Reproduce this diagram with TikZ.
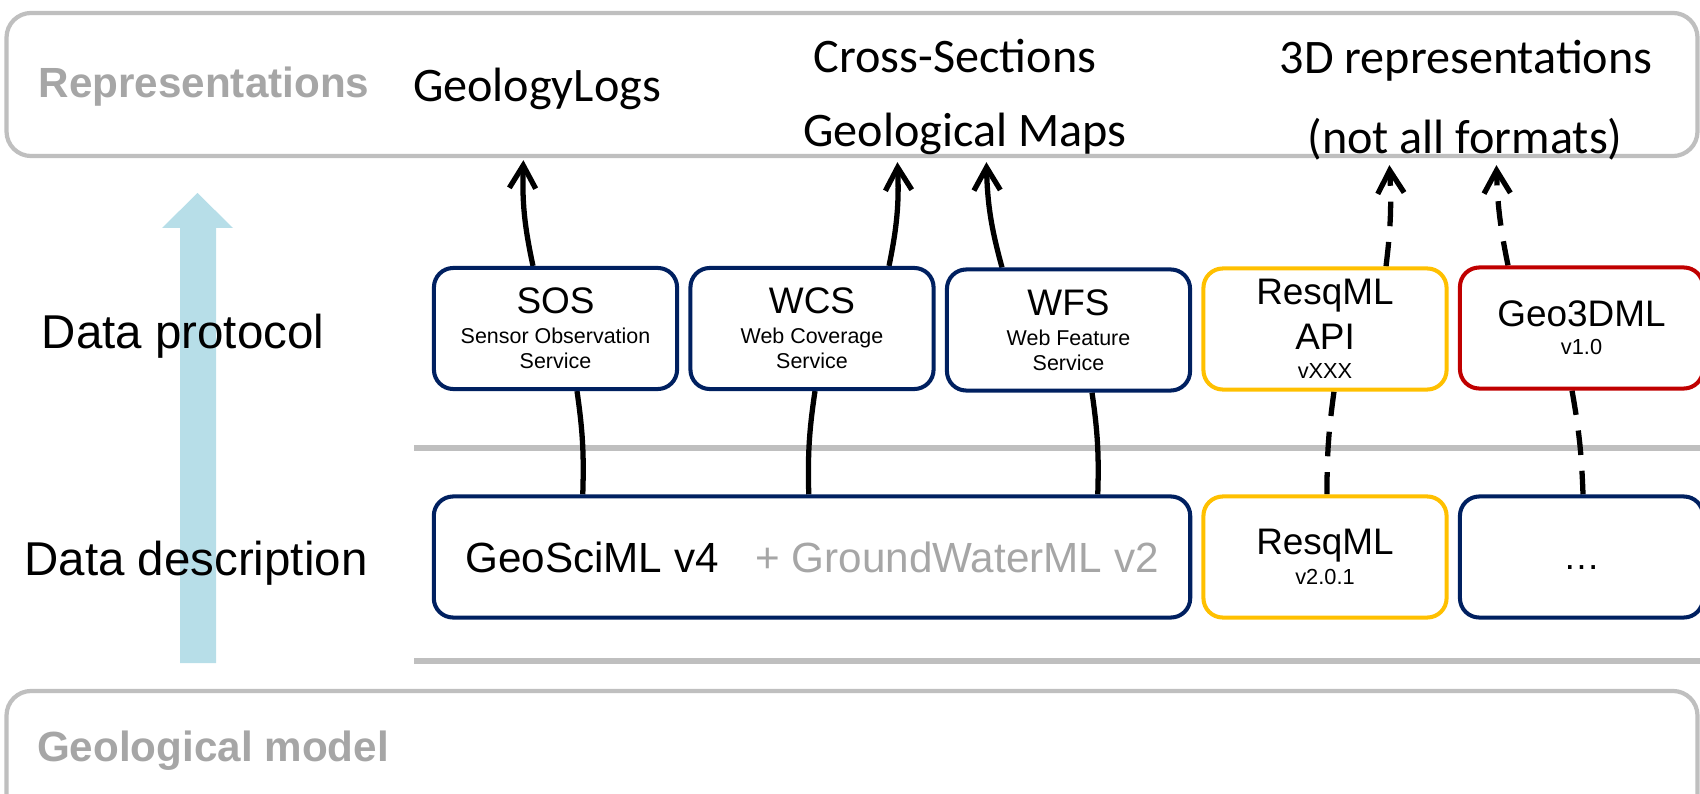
\documentclass[tikz,border=0pt]{standalone}
\usepackage{fontspec}
\setmainfont{Liberation Sans}
\newfontfamily\calibri{Carlito}
\usetikzlibrary{arrows.meta,calc}
\definecolor{geoNavy}{HTML}{002060}
\definecolor{geoYellow}{HTML}{FFC000}
\definecolor{geoRed}{HTML}{C00000}
\definecolor{geoGrayLine}{HTML}{BFBFBF}
\definecolor{geoGrayText}{HTML}{A6A6A6}
\definecolor{geoBlue}{HTML}{B7DEE8}
\tikzset{
    LAYER_BOX/.style={draw=geoGrayLine, line width=1.2pt, rounded corners=7pt,
        fill=white, minimum width=16.9cm, inner sep=0mm},
    LAYER_TITLE/.style={anchor=base, text=geoGrayText,
        font={\fontsize{12}{14}\selectfont\bfseries}},
    ROW_TITLE/.style={anchor=base, font={\fontsize{13.5}{16}\selectfont}},
    REP_TEXT/.style={anchor=base, font={\calibri\fontsize{13.7}{16}\selectfont}},
    BOX/.style={draw=geoNavy, fill=white, line width=1.15pt, rounded corners=5.5pt,
        minimum width=2.43cm, minimum height=1.21cm, inner sep=0mm, align=center},
    SERVICE_BOX/.style={BOX, font={\fontsize{6.1}{7.1}\selectfont}},
    FORMAT_BOX/.style={BOX, font={\fontsize{10.5}{12.8}\selectfont}},
    YELLOW_BOX/.style={FORMAT_BOX, draw=geoYellow},
    RED_BOX/.style={FORMAT_BOX, draw=geoRed},
    EDGE/.style={draw=black, line width=1.5pt},
    ARROW_EDGE/.style={EDGE, -{Straight Barb[length=6.5pt, width=7.5pt]}},
    DASHED_EDGE/.style={EDGE, dash pattern=on 7pt off 4.5pt},
    DASHED_ARROW_EDGE/.style={ARROW_EDGE, dash pattern=on 7pt off 4.5pt},
    GRAY_RULE/.style={draw=geoGrayLine, line width=1.5pt}
}
\newcommand{\boxtitle}[1]{{\fontsize{10.5}{12}\selectfont #1}}
\newcommand{\boxsmall}[1]{{\fontsize{6.2}{7}\selectfont #1}}
\pgfdeclarelayer{edgelayer}
\pgfdeclarelayer{nodelayer}
\pgfsetlayers{edgelayer,nodelayer,main}

\begin{document}
\begin{tikzpicture}[x=0.01cm, y=-0.01cm]
    \useasboundingbox (0,0) rectangle (1700,794);
    \begin{pgfonlayer}{nodelayer}
        \clip (0,0) rectangle (1700,794);
        \node [LAYER_BOX, minimum height=1.43cm] (1) at (852,84.5) {};
        \node [LAYER_BOX, minimum height=1.40cm] (2) at (852,761) {};
        \node [LAYER_TITLE] (3) at (204,98) {Representations};
        \node [LAYER_TITLE] (4) at (213,761) {Geological model};
        \node [REP_TEXT] (5) at (537,102) {GeologyLogs};
        \node [REP_TEXT] (6) at (955,73) {Cross-Sections};
        \node [REP_TEXT] (7) at (965,147) {Geological Maps};
        \node [REP_TEXT] (8) at (1466,74) {3D representations};
        \node [REP_TEXT] (9) at (1465,154) {(not all formats)};
        \node [ROW_TITLE] (10) at (183,348) {Data protocol};
        \node [ROW_TITLE] (11) at (196,575) {Data description};
        \node [SERVICE_BOX] (12) at (555.5,328.5) {\boxtitle{SOS}\\[1.4pt]Sensor Observation\\Service};
        \node [SERVICE_BOX] (13) at (812,328.5) {\boxtitle{WCS}\\[1.4pt]Web Coverage\\Service};
        \node [SERVICE_BOX] (14) at (1068.5,330) {\boxtitle{WFS}\\[1.4pt]Web Feature\\Service};
        \node [YELLOW_BOX] (15) at (1325,329) {ResqML\\API\\[-4.5pt]\boxsmall{vXXX}};
        \node [RED_BOX] (16) at (1581.5,328) {Geo3DML\\[-4.8pt]\boxsmall{v1.0}};
        \node [BOX, minimum width=7.56cm, font={\fontsize{12}{14}\selectfont}] (17) at (812,557)
            {GeoSciML v4\hspace{10.5pt}\textcolor{geoGrayText}{+ GroundWaterML v2}};
        \node [YELLOW_BOX] (18) at (1325,557) {ResqML\\[-4.3pt]\boxsmall{v2.0.1}};
        \node [FORMAT_BOX] (19) at (1581.5,557) {\vphantom{A}…};
    \end{pgfonlayer}
    \begin{pgfonlayer}{edgelayer}
        \clip (0,0) rectangle (1700,794);
        \fill[geoBlue] (180,663) -- (180,228) -- (162,228) -- (197.5,193)
            -- (233,228) -- (216,228) -- (216,663) -- cycle;
        \draw[GRAY_RULE] (414,448) -- (1700,448);
        \draw[GRAY_RULE] (414,661) -- (1700,661);
        \draw[ARROW_EDGE] ($(12.north)+(-22.5,0)$) to[bend left=7] ($(1.south west)+(519,2)$);
        \draw[ARROW_EDGE] ($(13.north)+(77,0)$) to[bend right=7] ($(1.south west)+(893,4)$);
        \draw[ARROW_EDGE] ($(14.north)+(-66.5,0)$) to[bend left=7] ($(1.south west)+(982,4)$);
        \draw[DASHED_ARROW_EDGE] ($(15.north)+(61,0)$) to[bend right=5] ($(1.south west)+(1385,7)$);
        \draw[DASHED_ARROW_EDGE] ($(16.north)+(-73.5,0)$) to[bend left=5] ($(1.south west)+(1492,7)$);
        \draw[EDGE] ($(12.south)+(21.5,0)$) to[bend left=5] ($(17.north west)+(151,0)$);
        \draw[EDGE] ($(13.south)+(3,0)$) to[bend right=5] ($(17.north west)+(377,0)$);
        \draw[EDGE] ($(14.south)+(23.5,0)$) to[bend left=5] ($(17.north west)+(666,0)$);
        \draw[DASHED_EDGE] ($(15.south)+(9,0)$) to[bend right=4] ($(18.north)+(2,0)$);
        \draw[DASHED_EDGE] ($(16.south)+(-9.5,0)$) to[bend left=4] ($(19.north)+(1.5,0)$);
    \end{pgfonlayer}
\end{tikzpicture}
\end{document}
